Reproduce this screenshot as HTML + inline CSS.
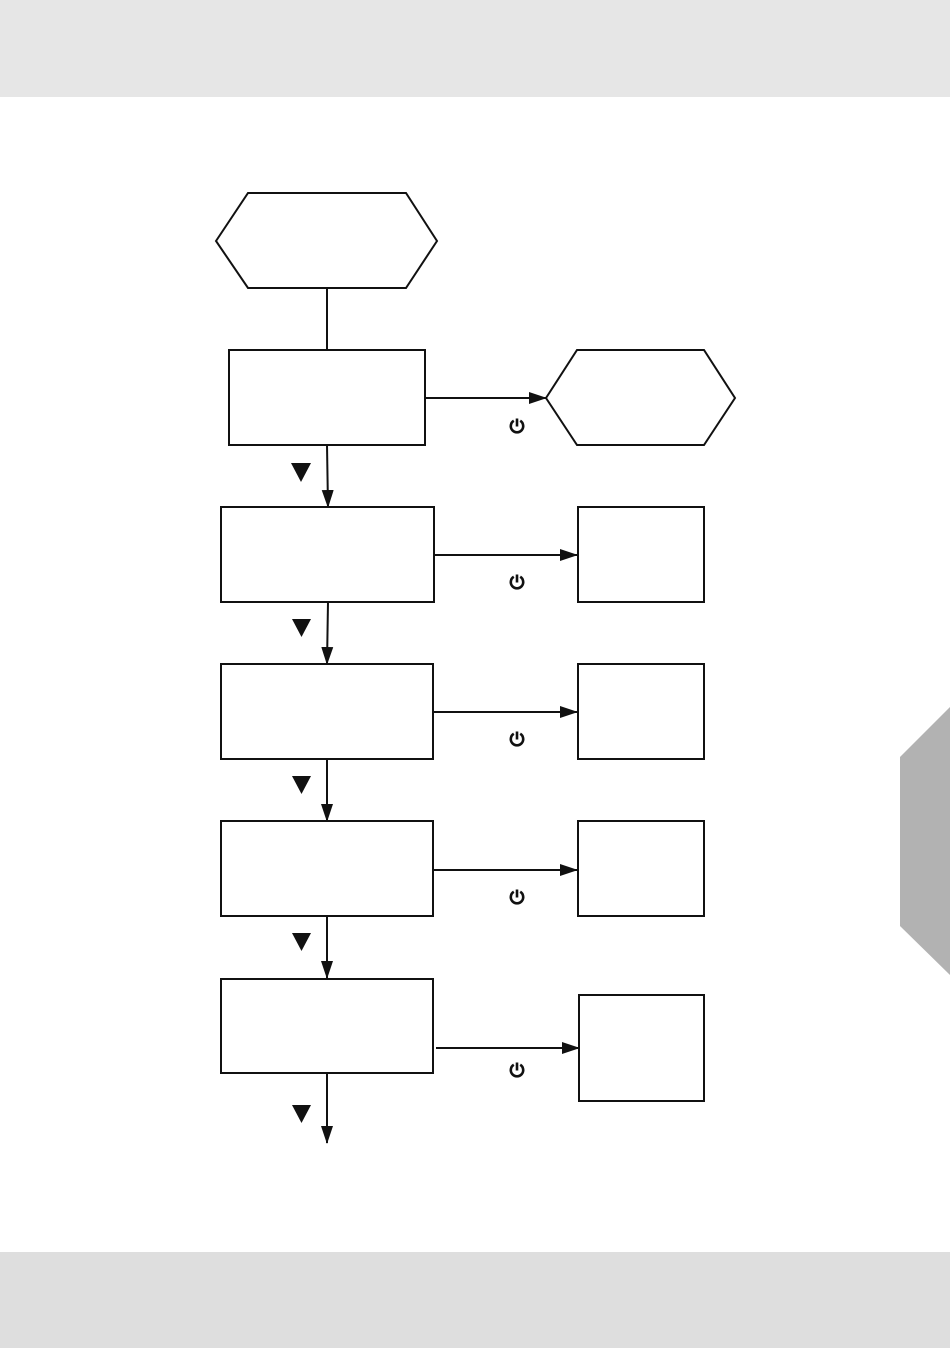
<!DOCTYPE html>
<html><head><meta charset="utf-8"><style>
html,body{margin:0;padding:0;background:#fff;}
svg{display:block;}
</style></head><body>
<svg width="950" height="1348" viewBox="0 0 950 1348" xmlns="http://www.w3.org/2000/svg">
<defs>
<marker id="ah" markerWidth="18" markerHeight="12" refX="17" refY="6" orient="auto" markerUnits="userSpaceOnUse">
<path d="M0,0 L18,6 L0,12 Z" fill="#111"/>
</marker>
<g id="pw" fill="none" stroke="#111" stroke-width="2.6">
<path d="M-3.2,-5.2 A6.2,6.2 0 1 0 3.2,-5.2"/>
<line x1="0" y1="-7.5" x2="0" y2="0.5"/>
</g>
</defs>
<rect x="0" y="0" width="950" height="97" fill="#e6e6e6"/>
<rect x="0" y="1252" width="950" height="96" fill="#dedede"/>
<polygon points="950,707 900,757 900,926 950,975" fill="#b2b2b2"/>
<g fill="none" stroke="#111" stroke-width="2">
<polygon points="216,241 248,193 406,193 437,241 406,288 248,288" fill="#fff"/>
<line x1="327" y1="288" x2="327" y2="350"/>
<rect x="229" y="350" width="196" height="95"/>
<line x1="425" y1="398" x2="546" y2="398" marker-end="url(#ah)"/>
<polygon points="546,398 577,350 704,350 735,398 704,445 577,445"/>
<line x1="327" y1="445" x2="328" y2="507" marker-end="url(#ah)"/>
<rect x="221" y="507" width="213" height="95"/>
<line x1="434" y1="555" x2="577" y2="555" marker-end="url(#ah)"/>
<rect x="578" y="507" width="126" height="95"/>
<line x1="328" y1="602" x2="327" y2="664" marker-end="url(#ah)"/>
<rect x="221" y="664" width="212" height="95"/>
<line x1="433" y1="712" x2="577" y2="712" marker-end="url(#ah)"/>
<rect x="578" y="664" width="126" height="95"/>
<line x1="327" y1="759" x2="327" y2="821" marker-end="url(#ah)"/>
<rect x="221" y="821" width="212" height="95"/>
<line x1="433" y1="870" x2="577" y2="870" marker-end="url(#ah)"/>
<rect x="578" y="821" width="126" height="95"/>
<line x1="327" y1="916" x2="327" y2="978" marker-end="url(#ah)"/>
<rect x="221" y="979" width="212" height="94"/>
<line x1="436" y1="1048" x2="579" y2="1048" marker-end="url(#ah)"/>
<rect x="579" y="995" width="125" height="106"/>
<line x1="327" y1="1073" x2="327" y2="1143" marker-end="url(#ah)"/>
</g>
<g fill="#111">
<polygon points="291,463 311,463 301,482"/>
<polygon points="292,619 311,619 301.5,637"/>
<polygon points="292,776 311,776 301.5,794"/>
<polygon points="292,933 311,933 301.5,951"/>
<polygon points="292,1105 311,1105 301.5,1123"/>
</g>
<use href="#pw" x="517" y="426"/>
<use href="#pw" x="517" y="582"/>
<use href="#pw" x="517" y="739"/>
<use href="#pw" x="517" y="897"/>
<use href="#pw" x="517" y="1070"/>
</svg>
</body></html>
